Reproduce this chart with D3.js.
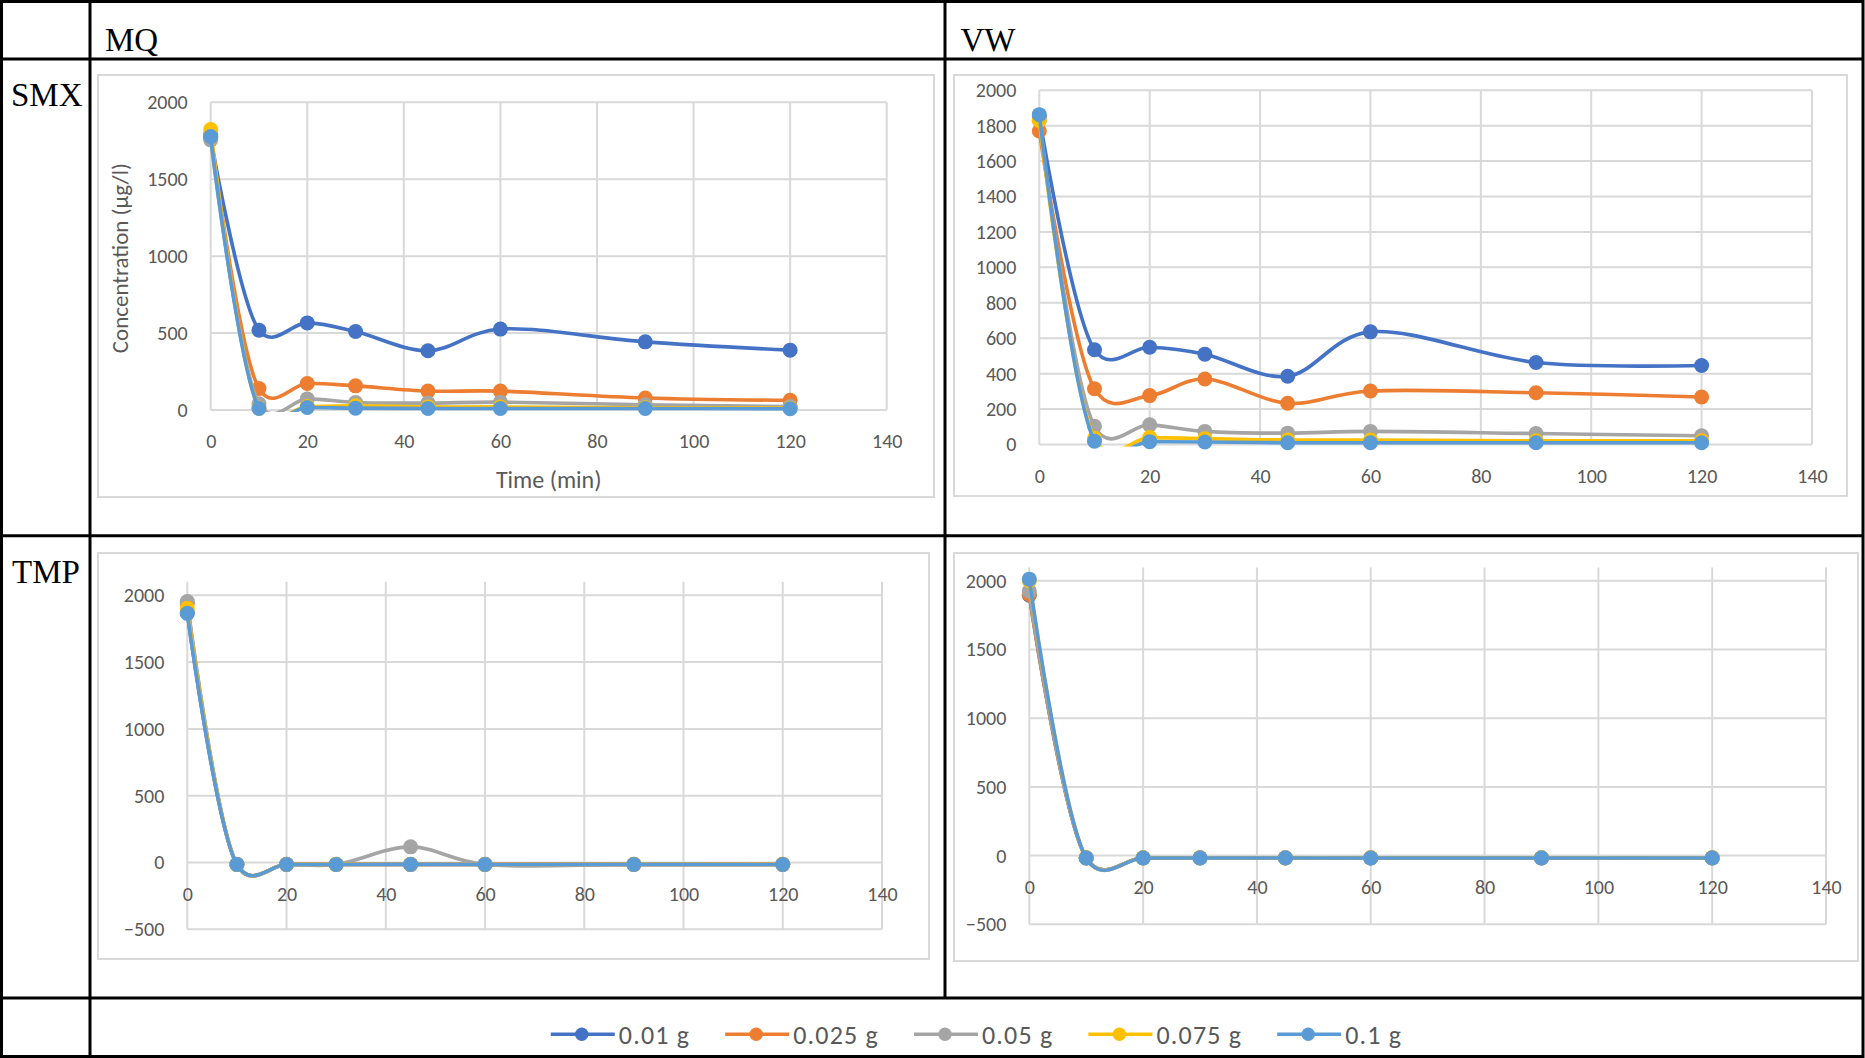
<!DOCTYPE html>
<html><head><meta charset="utf-8">
<script src="https://cdn.jsdelivr.net/npm/d3@7"></script>
<style>body{margin:0;background:#fff;} svg{display:block;}</style>
</head><body>
<svg id="c" width="1865" height="1058"></svg>
<script>
// ---------- data ----------
const times = [0, 10, 20, 30, 45, 60, 90, 120];
const seriesNames = ["0.01 g", "0.025 g", "0.05 g", "0.075 g", "0.1 g"];
const seriesColors = ["#4472C4", "#ED7D31", "#A5A5A5", "#FFC000", "#5B9BD5"];
const colLabels = ["MQ", "VW"];
const rowLabels = ["SMX", "TMP"];
const xTicks = [0, 20, 40, 60, 80, 100, 120, 140];
const yTicksSmxMq = [0, 500, 1000, 1500, 2000];
const yTicksSmxVw = [0, 200, 400, 600, 800, 1000, 1200, 1400, 1600, 1800, 2000];
const yTicksTmp = [-500, 0, 500, 1000, 1500, 2000];
const yTitle = "Concentration (µg/l)";
const xTitle = "Time (min)";

// SMX in MQ
const smxMq001  = [1770, 519, 566, 510, 385, 526, 443, 389];
const smxMq0025 = [1790, 139, 172, 157, 123, 123, 78, 63];
const smxMq005  = [1756, 40, 72, 49, 45, 51, 34, 22];
const smxMq0075 = [1823, 12, 22, 27, 20, 20, 15, 12];
const smxMq01   = [1778, 10, 16, 12, 10, 10, 10, 8];
// SMX in VW
const smxVw001  = [1850, 535, 549, 510, 385, 636, 463, 446];
const smxVw0025 = [1770, 315, 276, 370, 233, 302, 292, 268];
const smxVw005  = [1830, 103, 111, 74, 64, 74, 62, 49];
const smxVw0075 = [1829, 35, 39, 33, 25, 25, 21, 21];
const smxVw01   = [1862, 19, 16, 14, 10, 10, 10, 10];
// TMP in MQ
const tmpMq001  = [1870, -15, -14, -15, -14, -15, -14, -15];
const tmpMq0025 = [1940, -14, -15, -14, -15, -14, -15, -14];
const tmpMq005  = [1953, -15, -15, -15, 117, -15, -15, -15];
const tmpMq0075 = [1903, -15, -14, -14, -15, -15, -14, -14];
const tmpMq01   = [1865, -15, -15, -15, -15, -15, -15, -15];
// TMP in VW
const tmpVw001  = [1895, -17, -16, -17, -16, -17, -16, -17];
const tmpVw0025 = [1900, -16, -17, -16, -17, -16, -17, -16];
const tmpVw005  = [1925, -17, -17, -16, -16, -17, -17, -16];
const tmpVw0075 = [2000, -16, -16, -17, -17, -16, -16, -17];
const tmpVw01   = [2012, -17, -17, -17, -17, -17, -17, -17];

// ---------- layout ----------
const FONT = "Carlito, Lato, sans-serif";
const GRID = "#D9D9D9";
const TXT = "#595959";
const svg = d3.select("#c");

const panels = [
  {id:"p1", box:[98,75,934,497], xr:[210.7,886.7], yd:[0,2000], yr:[410,102.3], gridTop:null,
   yTicks:yTicksSmxMq, data:[smxMq001,smxMq0025,smxMq005,smxMq0075,smxMq01], titles:true},
  {id:"p2", box:[954,75,1847,496], xr:[1039.3,1812], yd:[0,2000], yr:[444.5,90.2], gridTop:null,
   yTicks:yTicksSmxVw, data:[smxVw001,smxVw0025,smxVw005,smxVw0075,smxVw01], titles:false},
  {id:"p3", box:[98,553,929,959], xr:[187.3,882], yd:[-500,2000], yr:[929.3,595.3], gridTop:581.7,
   yTicks:yTicksTmp, data:[tmpMq001,tmpMq0025,tmpMq005,tmpMq0075,tmpMq01], titles:false},
  {id:"p4", box:[954,553,1858,961], xr:[1029.3,1826], yd:[-500,2000], yr:[924.3,580.8], gridTop:567.4,
   yTicks:yTicksTmp, data:[tmpVw001,tmpVw0025,tmpVw005,tmpVw0075,tmpVw01], titles:false}
];

const defs = svg.append("defs");

panels.forEach(p => {
  const g = svg.append("g");
  const [bx0, by0, bx1, by1] = p.box;
  g.append("rect").attr("x", bx0).attr("y", by0).attr("width", bx1 - bx0).attr("height", by1 - by0)
    .attr("fill", "#fff").attr("stroke", GRID).attr("stroke-width", 2);

  const x = d3.scaleLinear().domain([0, 140]).range(p.xr);
  const y = d3.scaleLinear().domain(p.yd).range(p.yr);
  const gTop = p.gridTop == null ? y(p.yd[1]) : p.gridTop;
  const gBot = y(p.yd[0]);

  g.append("g").selectAll("line").data(p.yTicks).join("line")
    .attr("x1", x(0)).attr("x2", x(140)).attr("y1", d => y(d)).attr("y2", d => y(d))
    .attr("stroke", GRID).attr("stroke-width", 2);
  g.append("g").selectAll("line").data(xTicks).join("line")
    .attr("x1", d => x(d)).attr("x2", d => x(d)).attr("y1", gTop).attr("y2", gBot)
    .attr("stroke", GRID).attr("stroke-width", 2);

  const ya = g.append("g").attr("transform", `translate(${x(0)},0)`)
    .call(d3.axisLeft(y).tickValues(p.yTicks).tickSize(0).tickPadding(23).tickFormat(d3.format("d")));
  ya.select(".domain").remove();
  ya.selectAll("text").attr("font-family", FONT).attr("font-size", 20).attr("fill", TXT);

  const xa = g.append("g").attr("transform", `translate(0,${y(0)})`)
    .call(d3.axisBottom(x).tickValues(xTicks).tickSize(0).tickPadding(24).tickFormat(d3.format("d")));
  xa.select(".domain").remove();
  xa.selectAll("text").attr("font-family", FONT).attr("font-size", 20).attr("fill", TXT);

  if (p.titles) {
    g.append("text").attr("transform", `translate(120,${(y(p.yd[1]) + y(p.yd[0])) / 2 + 2}) rotate(-90)`)
      .attr("text-anchor", "middle").attr("dy", "0.35em").attr("font-family", FONT).attr("font-size", 23).attr("fill", TXT)
      .text(yTitle);
    g.append("text").attr("x", (x(0) + x(140)) / 2).attr("y", 488)
      .attr("text-anchor", "middle").attr("font-family", FONT).attr("font-size", 24).attr("fill", TXT)
      .text(xTitle);
  }

  defs.append("clipPath").attr("id", "clip-" + p.id).append("rect")
    .attr("x", x(0) - 20).attr("y", gTop - 40).attr("width", x(140) - x(0) + 40).attr("height", gBot - gTop + 42);

  const line = d3.line().x((d, i) => x(times[i])).y(d => y(d)).curve(d3.curveCatmullRom.alpha(0.2));
  p.data.forEach((vals, si) => {
    const sg = g.append("g");
    sg.append("path").attr("d", line(vals)).attr("fill", "none")
      .attr("stroke", seriesColors[si]).attr("stroke-width", 3.6).attr("stroke-linejoin", "round")
      .attr("clip-path", `url(#clip-${p.id})`);
    sg.selectAll("circle").data(vals).join("circle")
      .attr("cx", (d, i) => x(times[i])).attr("cy", d => y(d)).attr("r", 7.5)
      .attr("fill", seriesColors[si]);
  });
});

// ---------- table ----------
const T = svg.append("g").attr("stroke", "#000").attr("stroke-width", 3).attr("fill", "none");
T.append("rect").attr("x", 1.5).attr("y", 1.5).attr("width", 1861.5).attr("height", 1055);
T.append("line").attr("x1", 90).attr("x2", 90).attr("y1", 1.5).attr("y2", 1056.5);
T.append("line").attr("x1", 945).attr("x2", 945).attr("y1", 1.5).attr("y2", 998);
[59, 535.7, 998].forEach(yy => T.append("line").attr("x1", 1.5).attr("x2", 1863).attr("y1", yy).attr("y2", yy));

const SERIF = "'Liberation Serif', 'Times New Roman', serif";
svg.append("text").attr("x", 105).attr("y", 51).attr("font-family", SERIF).attr("font-size", 33).text(colLabels[0]);
svg.append("text").attr("x", 960.5).attr("y", 51).attr("font-family", SERIF).attr("font-size", 33).text(colLabels[1]);
svg.append("text").attr("x", 11).attr("y", 106).attr("font-family", SERIF).attr("font-size", 33).text(rowLabels[0]);
svg.append("text").attr("x", 12).attr("y", 583).attr("font-family", SERIF).attr("font-size", 33).text(rowLabels[1]);

// ---------- legend ----------
const L = svg.append("g");
const ly = 1034.3;
const items = seriesNames.map((name, i) => {
  const it = L.append("g");
  it.append("line").attr("x1", 0).attr("x2", 64).attr("y1", ly).attr("y2", ly)
    .attr("stroke", seriesColors[i]).attr("stroke-width", 3.4);
  it.append("circle").attr("cx", 31).attr("cy", ly).attr("r", 6.7).attr("fill", seriesColors[i]);
  const t = it.append("text").attr("x", 68).attr("y", ly).attr("dy", "0.36em")
    .attr("font-family", FONT).attr("font-size", 26).attr("letter-spacing", "1.2px").attr("fill", TXT).text(name);
  return {g: it, w: 68 + t.node().getComputedTextLength()};
});
const gap = 35;
const total = d3.sum(items, d => d.w) + gap * (items.length - 1);
let cx = (90 + 1863) / 2 - total / 2;
items.forEach(d => { d.g.attr("transform", `translate(${cx},0)`); cx += d.w + gap; });
</script>
</body></html>
